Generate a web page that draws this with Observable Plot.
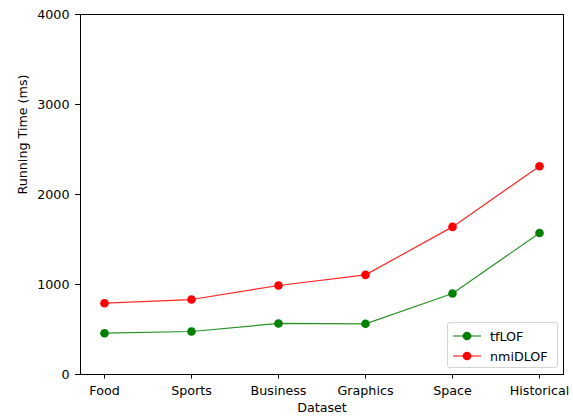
<!DOCTYPE html>
<html><head><meta charset="utf-8">
<script src="https://cdn.jsdelivr.net/npm/d3@7"></script>
<script src="https://cdn.jsdelivr.net/npm/@observablehq/plot@0.6"></script>
<style>
body{margin:0;background:#fff;}
#wrap{position:relative;width:573px;height:416px;font-family:"DejaVu Sans",sans-serif;}
.legend{position:absolute;left:447px;top:322px;width:111px;height:46px;border:1px solid #d3d3d3;border-radius:3px;background:rgba(255,255,255,0.8);box-sizing:border-box;font-size:12.7px;padding-top:3px;}
.legend .row{display:flex;align-items:center;height:20px;}
.legend svg{margin-left:5px;margin-right:9px;}
</style></head><body><div id="wrap"></div>
<script>
const datasets = ["Food", "Sports", "Business", "Graphics", "Space", "Historical"];
const tfLOF = [459, 478, 567, 563, 900, 1573];
const nmiDLOF = [792, 833, 989, 1107, 1640, 2314];
const seriesNames = ["tfLOF", "nmiDLOF"];
const seriesColors = ["green", "red"];
const yTicks = [0, 1000, 2000, 3000, 4000];
const xTitle = "Dataset";
const yTitle = "Running Time (ms)";

const seriesValues = [tfLOF, nmiDLOF];
const rows = [];
seriesNames.forEach((s, i) => datasets.forEach((d, j) => rows.push({series: s, dataset: d, value: seriesValues[i][j]})));

const chart = Plot.plot({
  width: 573, height: 416,
  marginLeft: 80, marginRight: 10, marginTop: 14, marginBottom: 42,
  style: {fontFamily: "DejaVu Sans", fontSize: "12.7px", color: "#000", background: "#fff"},
  x: {type: "point", domain: datasets, padding: 0.25, label: null},
  y: {domain: [0, 4000], label: null},
  color: {domain: seriesNames, range: seriesColors},
  marks: [
    Plot.axisX({tickSize: 4.5, tickPadding: 7, label: null}),
    Plot.axisY({ticks: yTicks, tickFormat: d3.format("d"), tickSize: 5, tickPadding: 6, label: null}),
    Plot.line(rows, {x: "dataset", y: "value", z: "series", stroke: "series", strokeWidth: 1.2, strokeOpacity: 0.85}),
    Plot.dot(rows, {x: "dataset", y: "value", fill: "series", r: 4.3}),
    Plot.frame({stroke: "#000", strokeWidth: 1}),
    Plot.text([xTitle], {text: d => d, frameAnchor: "bottom", dy: 37, fontSize: 12.7}),
    Plot.text([yTitle], {text: d => d, frameAnchor: "left", dx: -58, rotate: -90, fontSize: 12.7})
  ]
});
const wrap = document.getElementById("wrap");
wrap.appendChild(chart);

const legend = document.createElement("div");
legend.className = "legend";
seriesNames.forEach((s, i) => {
  const row = document.createElement("div");
  row.className = "row";
  row.innerHTML = `<svg width="28" height="12"><line x1="0" y1="6" x2="28" y2="6" stroke="${seriesColors[i]}" stroke-width="1.2" stroke-opacity="0.85"/><circle cx="14" cy="6" r="4.3" fill="${seriesColors[i]}"/></svg><span>${s}</span>`;
  legend.appendChild(row);
});
wrap.appendChild(legend);
</script>
</body></html>
